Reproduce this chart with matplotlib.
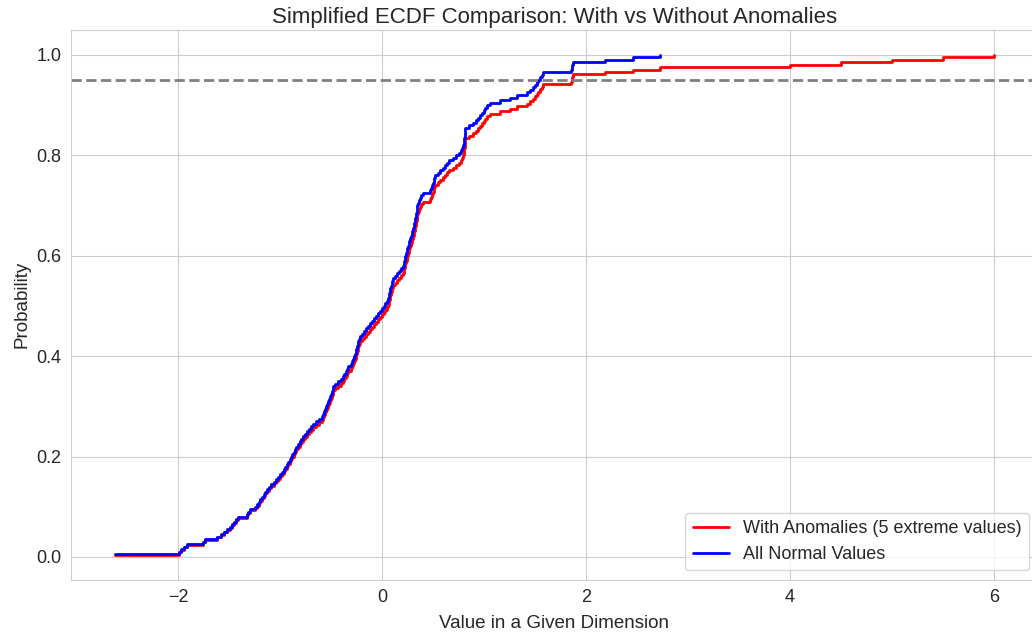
import numpy as np
import matplotlib
matplotlib.use("Agg")
import matplotlib.pyplot as plt
import seaborn as sns

# sorted sample of the normal values in one dimension
normal_values = [
    -2.62,
    -1.99, -1.97, -1.94, -1.91,
    -1.76, -1.74,
    -1.62, -1.58, -1.55, -1.52,
    -1.49, -1.47, -1.45, -1.43, -1.41,
    -1.33, -1.32, -1.30,
    -1.25, -1.23, -1.21, -1.20, -1.18, -1.16, -1.15, -1.13,
    -1.11, -1.09, -1.06, -1.04, -1.02, -1.00, -0.98, -0.96,
    -0.95, -0.93, -0.92, -0.90,
    -0.89, -0.88, -0.86, -0.85, -0.84, -0.83, -0.81, -0.80,
    -0.78, -0.76, -0.74, -0.72, -0.70,
    -0.68, -0.65, -0.62, -0.59,
    -0.58, -0.57, -0.56, -0.55, -0.54, -0.53, -0.52, -0.51, -0.50, -0.49, -0.485, -0.48,
    -0.46, -0.43, -0.40, -0.38,
    -0.37, -0.35, -0.34, -0.33, -0.31, -0.30, -0.29,
    -0.28, -0.27, -0.26, -0.255, -0.25, -0.24, -0.235, -0.23, -0.22,
    -0.20, -0.18, -0.16, -0.14,
    -0.12, -0.10, -0.08, -0.06, -0.04,
    -0.02, 0.00, 0.02, 0.03, 0.05,
    0.06, 0.065, 0.07, 0.075, 0.08, 0.09, 0.095, 0.10, 0.11,
    0.13, 0.15, 0.17, 0.18, 0.20,
    0.21, 0.215, 0.22, 0.225, 0.23,
    0.24, 0.245, 0.25, 0.26, 0.265, 0.27,
    0.28, 0.29, 0.295, 0.30, 0.31, 0.315, 0.32,
    0.325, 0.33, 0.335, 0.34, 0.343, 0.346, 0.35,
    0.36, 0.37, 0.385, 0.40,
    0.47, 0.48, 0.49,
    0.50, 0.505, 0.51, 0.52,
    0.55, 0.57, 0.60,
    0.62, 0.64, 0.66, 0.69,
    0.72, 0.75,
    0.77, 0.78, 0.79, 0.80,
    0.805, 0.807, 0.808, 0.809, 0.81, 0.812,
    0.85, 0.89,
    0.92, 0.94, 0.96,
    0.98, 0.995, 1.01,
    1.03, 1.06,
    1.16,
    1.25, 1.32,
    1.42,
    1.45, 1.48, 1.50,
    1.52, 1.53, 1.55,
    1.57, 1.58,
    1.85, 1.86, 1.865, 1.87,
    2.19, 2.46, 2.72,
]

# the five extreme values added to the sample
anomalies = [4.0, 4.5, 5.0, 5.5, 6.0]

threshold = 0.95


def ecdf(values):
    x = np.sort(np.asarray(values, dtype=float))
    y = np.arange(1, len(x) + 1) / len(x)
    return x, y


sns.set_style("whitegrid")
plt.rcParams['font.family'] = ['Liberation Sans', 'DejaVu Sans']

fig = plt.figure(figsize=(10.32, 6.39), dpi=100)
ax = fig.add_axes([0.0688, 0.0931, 0.937, 0.8602])

x_all, y_all = ecdf(normal_values + anomalies)
x_norm, y_norm = ecdf(normal_values)

ax.step(x_all, y_all, where='post', color='red', linewidth=2,
        label='With Anomalies (5 extreme values)')
ax.step(x_norm, y_norm, where='post', color='blue', linewidth=2,
        label='All Normal Values')
ax.axhline(threshold, color='gray', linestyle='--', linewidth=2)

ax.set_title("Simplified ECDF Comparison: With vs Without Anomalies", fontsize=16, pad=5)
ax.set_xlabel("Value in a Given Dimension", fontsize=13.5, labelpad=6)
ax.set_ylabel("Probability", fontsize=13.5)
ax.tick_params(labelsize=13)
ax.legend(loc='lower right', fontsize=13)

fig.savefig("out.png", dpi=100)
